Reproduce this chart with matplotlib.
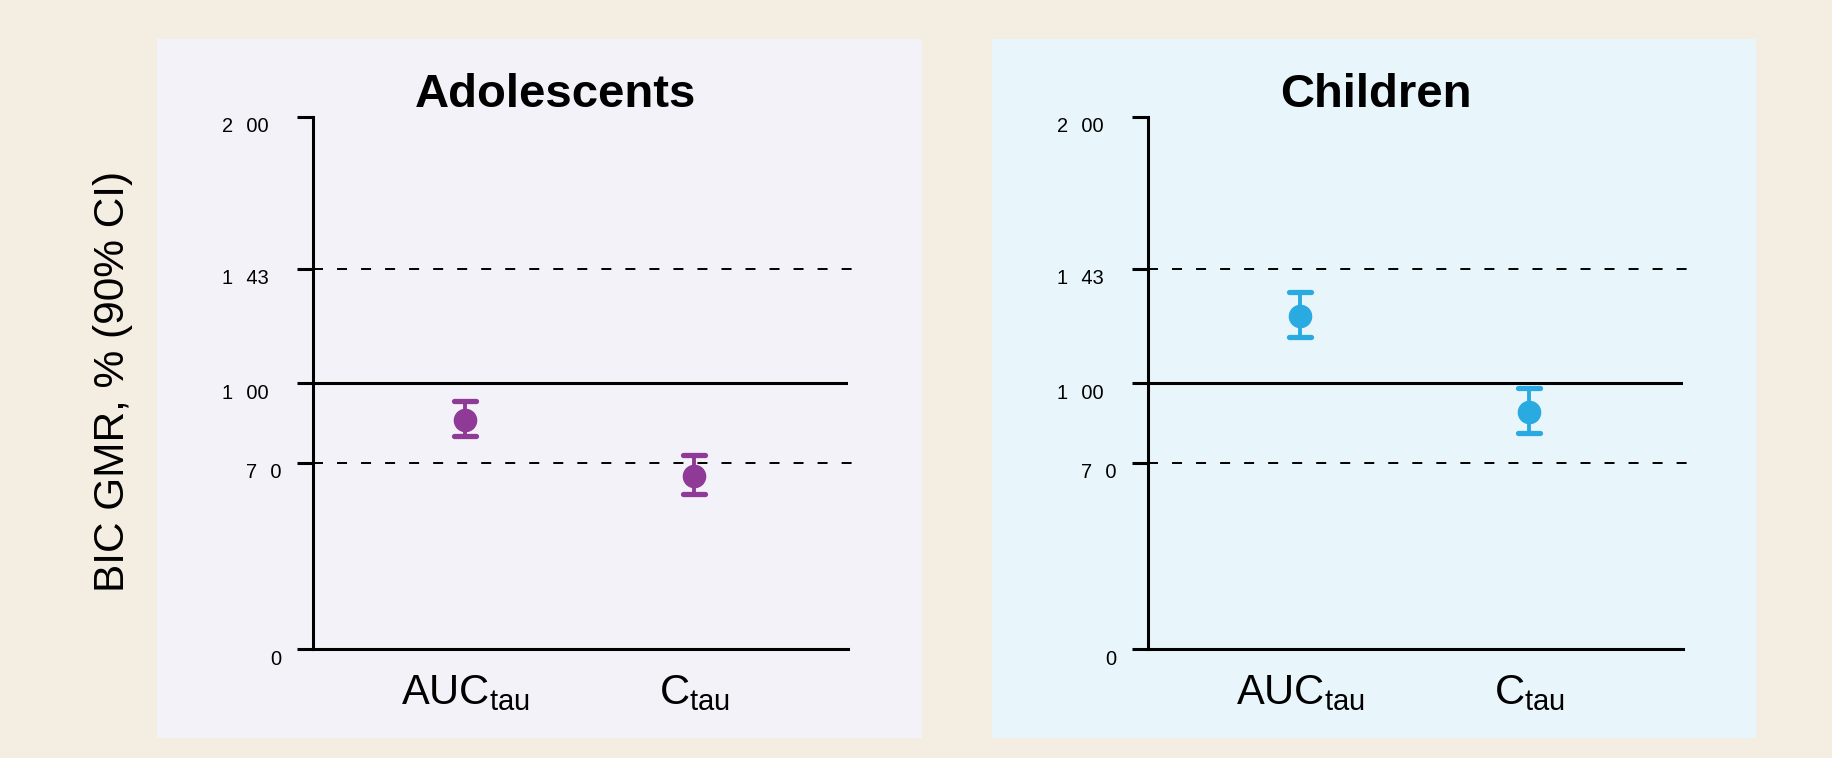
import matplotlib
matplotlib.use("Agg")
import matplotlib.pyplot as plt
from matplotlib.patches import Rectangle
from matplotlib.markers import MarkerStyle
from matplotlib.transforms import ScaledTranslation

plt.rcParams['font.family'] = ['Liberation Sans', 'DejaVu Sans']
plt.rcParams['mathtext.fontset'] = 'custom'
plt.rcParams['mathtext.rm'] = 'Liberation Sans'
plt.rcParams['lines.scale_dashes'] = False

# data (GMR and 90% CI, %)
params = [r"AUC$_\mathregular{tau}$", r"C$_\mathregular{tau}$"]
x_pos = [1, 2]
adol_gmr = [86.1, 65.1]
adol_lo = [80.1, 58.2]
adol_hi = [93.2, 73.0]
child_gmr = [125.2, 89.3]
child_lo = [117.2, 81.1]
child_hi = [134.2, 98.2]

sp = "\u2004\u2004"
yticks = [0, 70, 100, 143, 200]
ytick_labels = ["0", "7" + sp + "0", "1" + sp + "00", "1" + sp + "43", "2" + sp + "00"]
shifted = ("0", "7" + sp + "0")
dashed_refs = [70, 143]
solid_ref = 100

page_bg = '#F4EDE1'
panel_bg = ['#F3F2F8', '#E8F6FC']
colors = ['#8E3A96', '#29ABE2']

W, H = 1832, 758
fig = plt.figure(figsize=(W / 100, H / 100), dpi=100)
fig.patch.set_facecolor(page_bg)

# panel backgrounds (pixel coords from top-left)
panels = [(156.5, 921.8), (991.8, 1755.7)]
for (x0, x1), c in zip(panels, panel_bg):
    fig.add_artist(Rectangle((x0 / W, 1 - 738 / H), (x1 - x0) / W, (738 - 38.5) / H,
                             transform=fig.transFigure, facecolor=c, edgecolor='none', zorder=-1))

axes_left = [313, 1148]
titles = ["Adolescents", "Children"]
title_x = [556, 1376]
series = [(adol_gmr, adol_lo, adol_hi), (child_gmr, child_lo, child_hi)]

for i in range(2):
    ax = fig.add_axes([axes_left[i] / W, 1 - 649.4 / H, 535 / W, (649.4 - 116.8) / H])
    ax.set_zorder(1)
    ax.set_facecolor('none')
    ax.set_xlim(0.335, 2.67)
    ax.set_ylim(0, 200)
    for s in ['top', 'right']:
        ax.spines[s].set_visible(False)
    for s in ['left', 'bottom']:
        ax.spines[s].set_linewidth(2.2)

    for r in dashed_refs:
        ax.axhline(r, xmax=1.011, color='black', lw=1.4, linestyle=(0, (7.2, 10.1)), clip_on=False, zorder=1)
    ax.axhline(solid_ref, color='black', lw=2.2, zorder=1)

    gmr, lo, hi = series[i]
    yerr = [[g - l for g, l in zip(gmr, lo)], [h - g for g, h in zip(gmr, hi)]]
    _, caps, bars = ax.errorbar(x_pos, gmr, yerr=yerr, fmt='o', color=colors[i], ms=16,
                                elinewidth=2.8, capsize=8, capthick=3.8, zorder=3)
    for cap in caps:
        cap.set_marker(MarkerStyle('_', capstyle='round'))
        cap.set_markersize(15.4)
        cap.set_markeredgewidth(3.8)

    ax.set_yticks(yticks)
    ax.set_yticklabels(ytick_labels, fontsize=14.4)
    ax.tick_params(axis='y', length=11.7, width=2.2, pad=20)
    for lab in ax.get_yticklabels():
        dx = 12.5 / 100 if lab.get_text() in shifted else 0
        lab.set_transform(lab.get_transform() + ScaledTranslation(dx, -8 / 100, fig.dpi_scale_trans))

    ax.set_xticks(x_pos)
    ax.set_xticklabels(params, fontsize=30)
    ax.tick_params(axis='x', length=0, pad=17)

    fig.text(title_x[i] / W, 1 - 95 / H, titles[i], ha='center', va='center',
             fontsize=34, fontweight='bold')

fig.text(113 / W, 1 - 381 / H, "BIC GMR, % (90% CI)", rotation=90, ha='center', va='center',
         fontsize=30.5)

fig.savefig("out.png", dpi=100, facecolor=page_bg)
